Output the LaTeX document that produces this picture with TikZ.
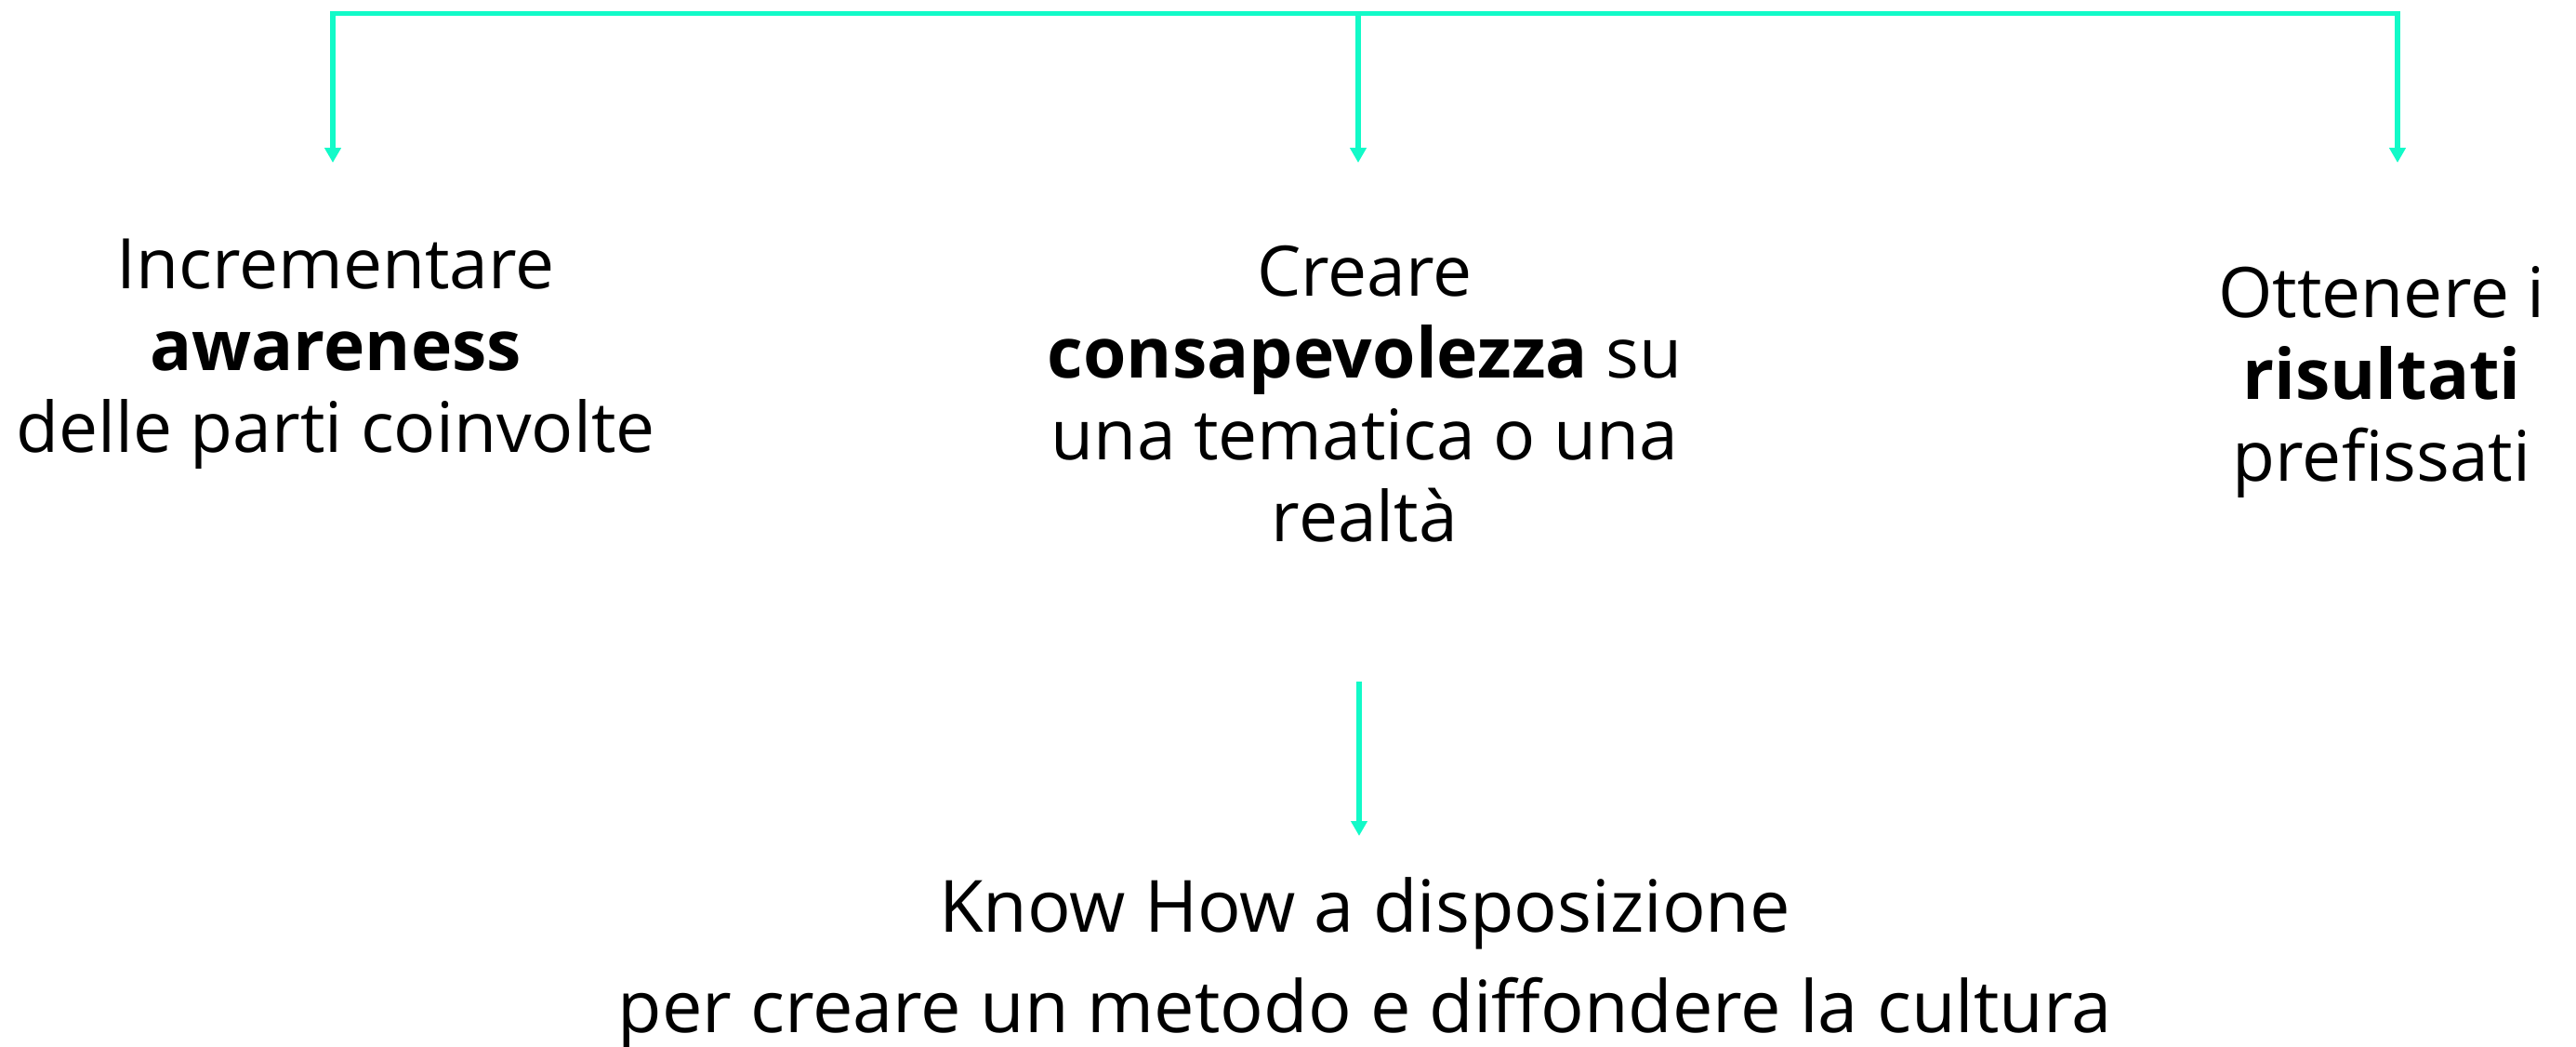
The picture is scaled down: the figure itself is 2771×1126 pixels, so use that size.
\documentclass[tikz,border=0pt]{standalone}
\usepackage{fontspec}
\setmainfont{Open Sans}
\usetikzlibrary{arrows.meta}
\definecolor{aqua}{RGB}{18,250,200}
\tikzset{
  conn/.style={draw=aqua, line width=5.5pt, -{Triangle[width=17pt,length=16pt]}},
  lbl/.style={align=center, anchor=base, inner sep=0pt, font=\fontsize{75}{88}\selectfont}
}
\begin{document}
\begin{tikzpicture}[x=1pt,y=-1pt]
\useasboundingbox (0,0) rectangle (2771,1126);
\node[lbl] (left) at (361,486) {Incrementare\\\textbf{awareness}\\delle parti coinvolte};
\node[lbl] (mid) at (1468,582) {Creare\\\textbf{consapevolezza} su\\una tematica o una\\realtà};
\node[lbl] (right) at (2562,517) {Ottenere i\\\textbf{risultati}\\prefissati};
\node[lbl, font=\fontsize{77.5}{108}\selectfont] (bot) at (1468,1110) {Know How a disposizione\\per creare un metodo e diffondere la cultura};
\coordinate (top) at (1461,14.5);
\coordinate (tl) at (358,14.5);
\coordinate (tr) at (2579,14.5);
\coordinate (al) at (358,175);
\coordinate (am) at (1461,175);
\coordinate (ar) at (2579,175);
\coordinate (bs) at (1462,733);
\coordinate (be) at (1462,899);
\draw[conn] (top) -- (tl) -- (al);
\draw[conn] (top) -- (tr) -- (ar);
\draw[conn] (top) -- (am);
\draw[conn] (bs) -- (be);
\end{tikzpicture}
\end{document}
